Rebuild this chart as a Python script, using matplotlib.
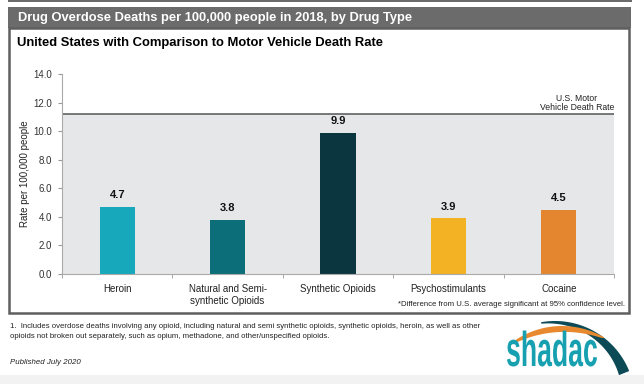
import matplotlib
matplotlib.use("Agg")
import matplotlib.pyplot as plt
import numpy as np
from matplotlib.patches import Rectangle, Polygon, PathPatch
from matplotlib.textpath import TextPath
from matplotlib.font_manager import FontProperties
from matplotlib.transforms import Affine2D

plt.rcParams['font.family'] = ['Liberation Sans', 'DejaVu Sans']

# data
drugs = ["Heroin", "Natural and Semi-\nsynthetic Opioids", "Synthetic Opioids",
         "Psychostimulants", "Cocaine"]
rates = [4.7, 3.8, 9.9, 3.9, 4.5]
colors = ["#17a8bc", "#0c6e78", "#0b363f", "#f3b124", "#e4852f"]
motor_rate = 11.2
yticks = [0, 2, 4, 6, 8, 10, 12, 14]

W, H = 644, 384
fig = plt.figure(figsize=(W / 100, H / 100), dpi=100)

# background canvas in pixel coords
bg = fig.add_axes([0, 0, 1, 1])
bg.set_xlim(0, W)
bg.set_ylim(H, 0)
bg.axis('off')

bg.add_patch(Rectangle((8, 0), 624, 2, color="#6b6b6b", lw=0))
bg.add_patch(Rectangle((8, 7), 623, 21, color="#6b6b6b", lw=0))
bg.add_patch(Rectangle((9.5, 28), 620, 285, fill=False, ec="#5f5f5f", lw=1.8))
bg.add_patch(Rectangle((0, 375), W, 9, color="#f2f2f2", lw=0))

bg.text(18, 17.5, "Drug Overdose Deaths per 100,000 people in 2018, by Drug Type",
        color="white", fontsize=9.3, fontweight="bold", va="center", ha="left")
bg.text(17, 43, "United States with Comparison to Motor Vehicle Death Rate",
        color="black", fontsize=9.4, fontweight="bold", va="center", ha="left")
bg.text(625, 305, "*Difference from U.S. average significant at 95% confidence level.",
        fontsize=5.6, ha="right", va="center", color="#222222")
bg.text(10, 327, "1.  Includes overdose deaths involving any opioid, including natural and semi synthetic "
        "opioids, synthetic opioids, heroin, as well as other", fontsize=5.55, va="center", color="#222222")
bg.text(10, 336.5, "opioids not broken out separately, such as opium, methadone, and other/unspecified opioids.",
        fontsize=5.55, va="center", color="#222222")
bg.text(10, 363, "Published July 2020", fontsize=5.7, style="italic", va="center", color="#222222")

# logo (drawn in pixel coords)
t = np.linspace(0, 1, 60)
ang = np.radians(100 - 78 * t)
cx, cy, r = 555, 401, 80
th = 1.5 + 9.5 * t
outer = np.c_[cx + r * np.cos(ang), cy - r * np.sin(ang)]
inner = np.c_[cx + (r - th) * np.cos(ang), cy - (r - th) * np.sin(ang)]
bg.add_patch(Polygon(np.r_[outer, inner[::-1]], closed=True, color="#0c4a55", lw=0))
ang2 = np.radians(128 - 68 * t)
cx2, cy2, r2 = 562, 410, 84
th2 = 1 + 5 * np.sin(np.pi * t) ** 0.7
outer2 = np.c_[cx2 + r2 * np.cos(ang2), cy2 - r2 * np.sin(ang2)]
inner2 = np.c_[cx2 + (r2 - th2) * np.cos(ang2), cy2 - (r2 - th2) * np.sin(ang2)]
bg.add_patch(Polygon(np.r_[outer2, inner2[::-1]], closed=True, color="#e8892f", lw=0))
tp = TextPath((0, 0), "shadac", size=10, prop=FontProperties(family="Liberation Sans", weight="bold"))
ext = tp.get_extents()
sx = 90 / ext.width
sy = 36 / ext.height
tr = Affine2D().translate(-ext.x0, -ext.y0).scale(sx, -sy).translate(507, 366.5)
bg.add_patch(PathPatch(tr.transform_path(tp), color="#17a0b0", lw=0))

# chart
ax = fig.add_axes([62 / W, 1 - 274 / H, (614 - 62) / W, 200 / H])
x = np.arange(len(drugs))
ax.axhspan(0, motor_rate, color="#e6e7e8", lw=0, zorder=0)
ax.axhline(motor_rate, color="#555555", lw=1.1, zorder=1)
ax.bar(x, rates, width=0.32, color=colors, zorder=2)
for xi, v in zip(x, rates):
    ax.text(xi, v + 0.45, "%.1f" % v, ha="center", va="bottom", fontsize=8,
            fontweight="bold", color="#111111")
ax.text(4.5, motor_rate + 0.15, "U.S. Motor\nVehicle Death Rate", ha="right", va="bottom",
        multialignment="center", fontsize=6.2, color="#222222", linespacing=1.0)

ax.set_xlim(-0.5, 4.5)
ax.set_ylim(0, 14)
ax.set_yticks(yticks)
ax.set_yticklabels(["%.1f" % v for v in yticks])
ax.set_xticks(x)
ax.set_xticklabels(drugs, fontsize=7, color="#222222", linespacing=1.25)
ax.set_xticks(np.arange(-0.5, 5, 1), minor=True)
ax.tick_params(axis="x", which="major", length=0, pad=7)
ax.tick_params(axis="x", which="minor", length=3, color="#999999")
ax.tick_params(axis="y", length=3, color="#999999", labelsize=7, labelcolor="#333333", pad=4)
ax.set_ylabel("Rate per 100,000 people", fontsize=7, color="#222222")
ax.yaxis.set_label_coords(-0.058, 0.5)
for s in ["top", "right"]:
    ax.spines[s].set_visible(False)
ax.spines["left"].set_color("#aaaaaa")
ax.spines["bottom"].set_color("#aaaaaa")
ax.set_facecolor("white")

fig.savefig("out.png", dpi=100)
